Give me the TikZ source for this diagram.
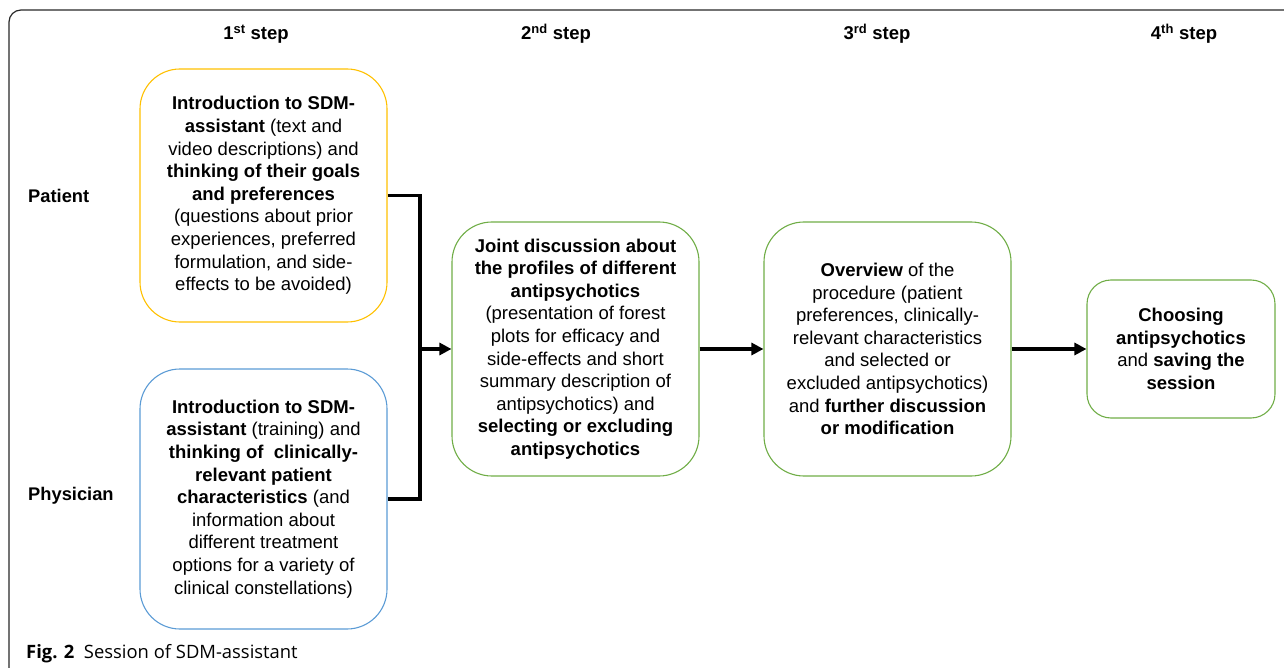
\documentclass[tikz,border=0pt]{standalone}
\usepackage{fontspec}
\setmainfont{Liberation Sans}
\newfontfamily\capfont{Open Sans}
\usepackage{xcolor}
\definecolor{sdmgold}{RGB}{255,192,0}
\definecolor{sdmblue}{RGB}{91,155,213}
\definecolor{sdmgreen}{RGB}{112,173,71}
\definecolor{sdmframe}{RGB}{40,40,40}
\usetikzlibrary{arrows.meta,positioning}

\begin{document}
\begin{tikzpicture}[x=1pt, y=-1pt,
    sessbox/.style={rectangle, rounded corners=40pt, minimum width=247pt, minimum height=254pt,
      inner sep=0pt, draw, line width=1.1pt, align=center, font=\fontsize{18.5}{22.6}\selectfont},
    steplabel/.style={font=\fontsize{18.5}{20}\selectfont\bfseries, inner sep=0pt},
    rolelabel/.style={font=\fontsize{18.3}{20}\selectfont\bfseries, inner sep=0pt, anchor=west},
    conn/.style={line width=3.6pt, black, line join=miter},
    arr/.style={conn, -{Triangle[length=12pt,width=12pt]}}
  ]
    \useasboundingbox (0,0) rectangle (1284,668);
    \clip (0,0) rectangle (1284,668);
    \draw[sdmframe, line width=1.2pt, rounded corners=12pt] (9,720) -- (9,10) -- (1330,10);

    % step headers
    \node[steplabel] (s1) at (256,34)  {1\textsuperscript{st} step};
    \node[steplabel] (s2) at (556,34)  {2\textsuperscript{nd} step};
    \node[steplabel] (s3) at (877,34)  {3\textsuperscript{rd} step};
    \node[steplabel] (s4) at (1184,34) {4\textsuperscript{th} step};

    \node[rolelabel] (lpat) at (28,196) {Patient};
    \node[rolelabel] (lphy) at (28,496) {Physician};

    % first step
    \node[sessbox, draw=sdmgold, minimum height=253pt] (pat) at (263.5,195.5)
      {\textbf{Introduction to SDM-}\\\textbf{assistant} (text and\\video descriptions) and\\
       \textbf{thinking of their goals}\\\textbf{and preferences}\\(questions about prior\\
       experiences, preferred\\formulation, and side-\\effects to be avoided)};
    \node[sessbox, draw=sdmblue, minimum height=260pt] (phy) at (263.5,499)
      {\textbf{Introduction to SDM-}\\\textbf{assistant} (training) and\\\textbf{thinking of\ \ clinically-}\\
       \textbf{relevant patient}\\\textbf{characteristics} (and\\information about\\
       different treatment\\options for a variety of\\clinical constellations)};

    % second to fourth step
    \node[sessbox, draw=sdmgreen] (joint) at (575.5,349)
      {\textbf{Joint discussion about}\\\textbf{the profiles of different}\\\textbf{antipsychotics}\\
       (presentation of forest\\plots for efficacy and\\side-effects and short\\
       summary description of\\antipsychotics) and\\\textbf{selecting or excluding}\\\textbf{antipsychotics}};
    \node[sessbox, draw=sdmgreen] (overv) at (887.5,349)
      {\textbf{Overview} of the\\procedure (patient\\preferences, clinically-\\relevant characteristics\\
       and selected or\\excluded antipsychotics)\\and \textbf{further discussion}\\\textbf{or modification}};
    \node[sessbox, draw=sdmgreen, rounded corners=24pt, minimum width=188pt, minimum height=138pt] (choose) at (1181,349)
      {\textbf{Choosing}\\\textbf{antipsychotics}\\and \textbf{saving the}\\\textbf{session}};

    \coordinate (join) at (420,349);
    \draw[conn] (pat.east) -| (join) |- (phy.east);
    \draw[arr] (join) -- (joint.west);
    \draw[arr] (joint.east) -- (overv.west);
    \draw[arr] (overv.east) -- (choose.west);

    \node[anchor=base west, inner sep=0pt, font=\capfont\fontsize{18.4}{20}\selectfont] (cap) at (26,658)
      {\textbf{Fig. 2}\ \ Session of SDM-assistant};
  \end{tikzpicture}
\end{document}
